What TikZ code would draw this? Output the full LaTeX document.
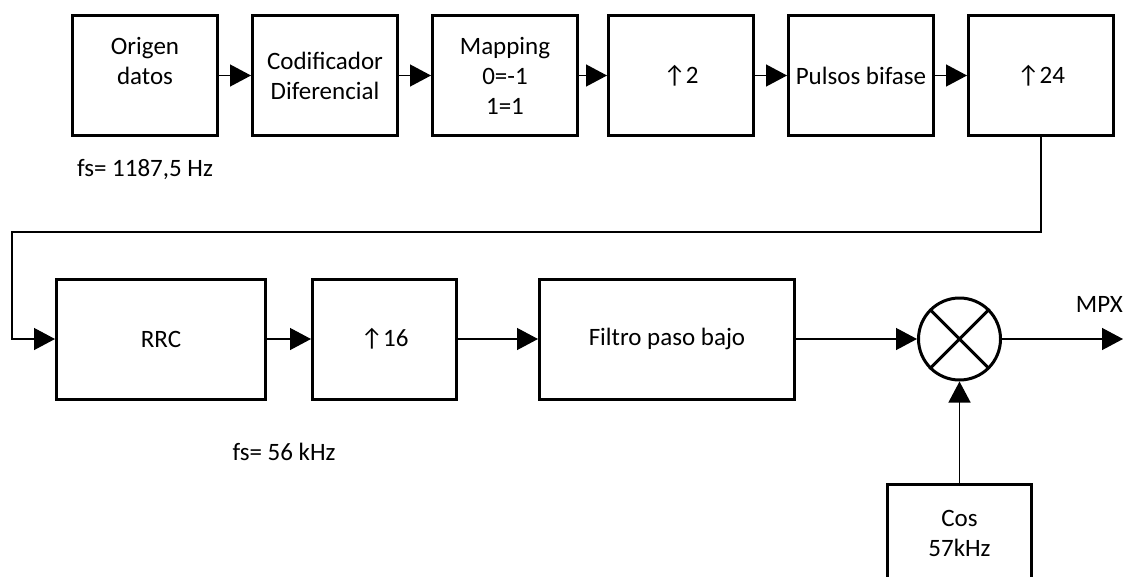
\documentclass[tikz,border=0pt]{standalone}
\usepackage{fontspec}
\setmainfont{Carlito}
\usetikzlibrary{arrows.meta}
\usetikzlibrary{positioning}

\begin{document}
\begin{tikzpicture}[x=1pt,y=-1pt,
    font=\fontsize{25}{30}\selectfont,
    block/.style={draw,rectangle,line width=3pt,minimum width=145pt,minimum height=120pt,align=center,inner sep=0pt},
    mixer/.style={draw,circle,line width=3pt,minimum size=82pt,inner sep=0pt},
    link/.style={draw,line width=1.3pt,->,>={Triangle[length=21pt,width=22pt]}}]

  \useasboundingbox (0,0) rectangle (1123,576);
  \clip (0,0) rectangle (1123,576);

  % top row
  \node [block] (origen) at (145,75.5) {Origen\\datos\\\mbox{}};
  \node [block,right=32pt of origen] (codif) {Codificador\\Diferencial};
  \node [block,right=32pt of codif] (mapping) {Mapping\\0=-1\\1=1};
  \node [block,right=28pt of mapping] (up2) {↑2};
  \node [block,right=32pt of up2] (bifase) {Pulsos bifase};
  \node [block,right=32pt of bifase] (up24) {↑24};

  \node (fs_top) at (145,170) {fs= 1187,5 Hz};

  % bottom row
  \node [block,minimum width=209pt] (rrc) at (161,339) {RRC};
  \node [block,minimum width=144pt,right=44pt of rrc] (up16) {↑16};
  \node [block,minimum width=255pt,right=80pt of up16] (lpf) {Filtro paso bajo};
  \node [mixer,right=121pt of lpf] (mix) {};
  \node [block,minimum width=144pt,minimum height=99pt,below=101pt of mix] (cos) {Cos\\57kHz};

  \node (fs_bottom) at (284,452) {fs= 56 kHz};

  \coordinate (loop) at (12,232);
  \coordinate (mpx) at (1123,339);
  \node [anchor=south east,inner sep=0pt] (mpx_label) at (1123,313) {MPX};

  \draw [line width=3pt,shorten <=1.5pt,shorten >=1.5pt]
    (mix.north east) -- (mix.south west)
    (mix.north west) -- (mix.south east);

  \path [link]
    (origen)  edge (codif)
    (codif)   edge (mapping)
    (mapping) edge (up2)
    (up2)     edge (bifase)
    (bifase)  edge (up24)
    (rrc)     edge (up16)
    (up16)    edge (lpf)
    (lpf)     edge (mix)
    (cos)     edge (mix)
    (mix)     edge (mpx);

  \path [link] (up24.south) |- (loop) |- (rrc.west);

\end{tikzpicture}
\end{document}
